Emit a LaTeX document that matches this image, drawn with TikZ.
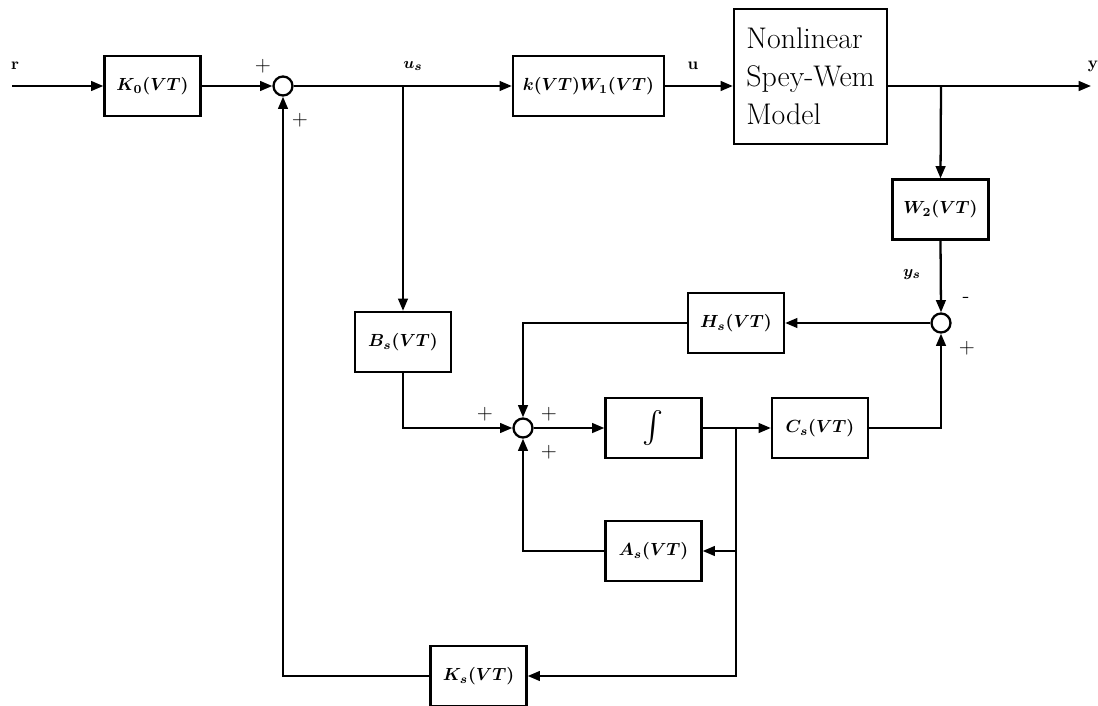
\documentclass[tikz,border=0pt]{standalone}
\usepackage{amsmath,amssymb,bm}
\usepackage{xcolor}
\usepackage{tikz}
\usetikzlibrary{arrows.meta,calc,positioning}

\begin{document}
\begin{tikzpicture}[x=0.02cm,y=-0.02cm,line width=1.3pt,>={Triangle[length=7pt,width=5.5pt]},
 blk/.style={draw,line width=1.3pt,minimum width=1.92cm,minimum height=1.2cm,inner sep=1pt,font=\fontsize{10}{12}\selectfont\boldmath},
 sumpt/.style={draw,circle,line width=1.3pt,minimum size=0.38cm,inner sep=0pt},
 sgn/.style={font=\fontsize{12}{13}\selectfont,inner sep=0pt},
 sglab/.style={font=\fontsize{9.5}{10}\selectfont\bfseries\boldmath,inner sep=0pt}]
\useasboundingbox (0,0) rectangle (1098,706);
\node[blk] (K0) at (152.5,86) {$K_0(VT)$};
\node[blk,minimum width=3.02cm] (kW) at (588.5,86) {$k(VT)W_1(VT)$};
\node[draw,line width=1.3pt,minimum width=3.06cm,minimum height=2.7cm,align=left,inner sep=0pt,font=\fontsize{17}{21.5}\selectfont] (NL) at (810.5,76.5) {Nonlinear\\Spey-Wem\\Model};
\node[blk] (W2) at (940.5,209.5) {$W_2(VT)$};
\node[blk] (Hs) at (736,323) {$H_s(VT)$};
\node[blk] (Bs) at (403,342) {$B_s(VT)$};
\node[blk,font=\fontsize{18}{20}\selectfont] (int) at (653.5,428) {$\int$};
\node[blk] (Cs) at (820,428) {$C_s(VT)$};
\node[blk] (As) at (653.5,551) {$A_s(VT)$};
\node[blk] (Ks) at (478.5,676) {$K_s(VT)$};
\node[sumpt] (S1) at (283,86) {}; \node[sumpt] (S2) at (941,323) {}; \node[sumpt] (S3) at (523,428) {};
\coordinate (rin) at (12,86); \coordinate (yout) at (1091,86);
\coordinate (usb) at (403,86); \coordinate (yb) at (941,86); \coordinate (xb) at (736,428);
% signals
\node[sglab] (lr) at (15,66) {r}; \node[sglab] (lus) at (413,66) {$u_s$};
\node[sglab] (lu) at (693,66) {u}; \node[sglab] (ly) at (1093,66) {y};
\node[sglab] (lys) at (912,275) {$y_s$};
% signs
\node[sgn] (p1a) at (263,66) {$+$}; \node[sgn] (p1b) at (300,120) {$+$};
\node[sgn] (m2a) at (966,300) {-}; \node[sgn] (p2b) at (967,348) {$+$};
\node[sgn] (p3a) at (485,414) {$+$}; \node[sgn] (p3b) at (549,414) {$+$}; \node[sgn] (p3c) at (549,452) {$+$};
% connections
\draw[->] (rin) -- (K0.west); \draw[->] (K0.east) -- (S1.west);
\draw[->] (S1.east) -- (kW.west); \draw[->] (kW.east) -- (kW.east -| NL.west);
\draw[->] (NL.east |- yout) -- (yout);
\draw[->] (yb) -- (W2.north); \draw[->] (W2.south) -- (S2.north);
\draw[->] (S2.west) -- (Hs.east); \draw[->] (Hs.west) -| (S3.north);
\draw[->] (usb) -- (Bs.north); \draw[->] (Bs.south) |- (S3.west);
\draw[->] (S3.east) -- (int.west); \draw[->] (int.east) -- (Cs.west);
\draw[->] (Cs.east) -| (S2.south);
\draw[->] (xb) |- (Ks.east); \draw[->] (xb |- As.east) -- (As.east);
\draw[->] (As.west) -| (S3.south); \draw[->] (Ks.west) -| (S1.south);
\end{tikzpicture}
\end{document}
